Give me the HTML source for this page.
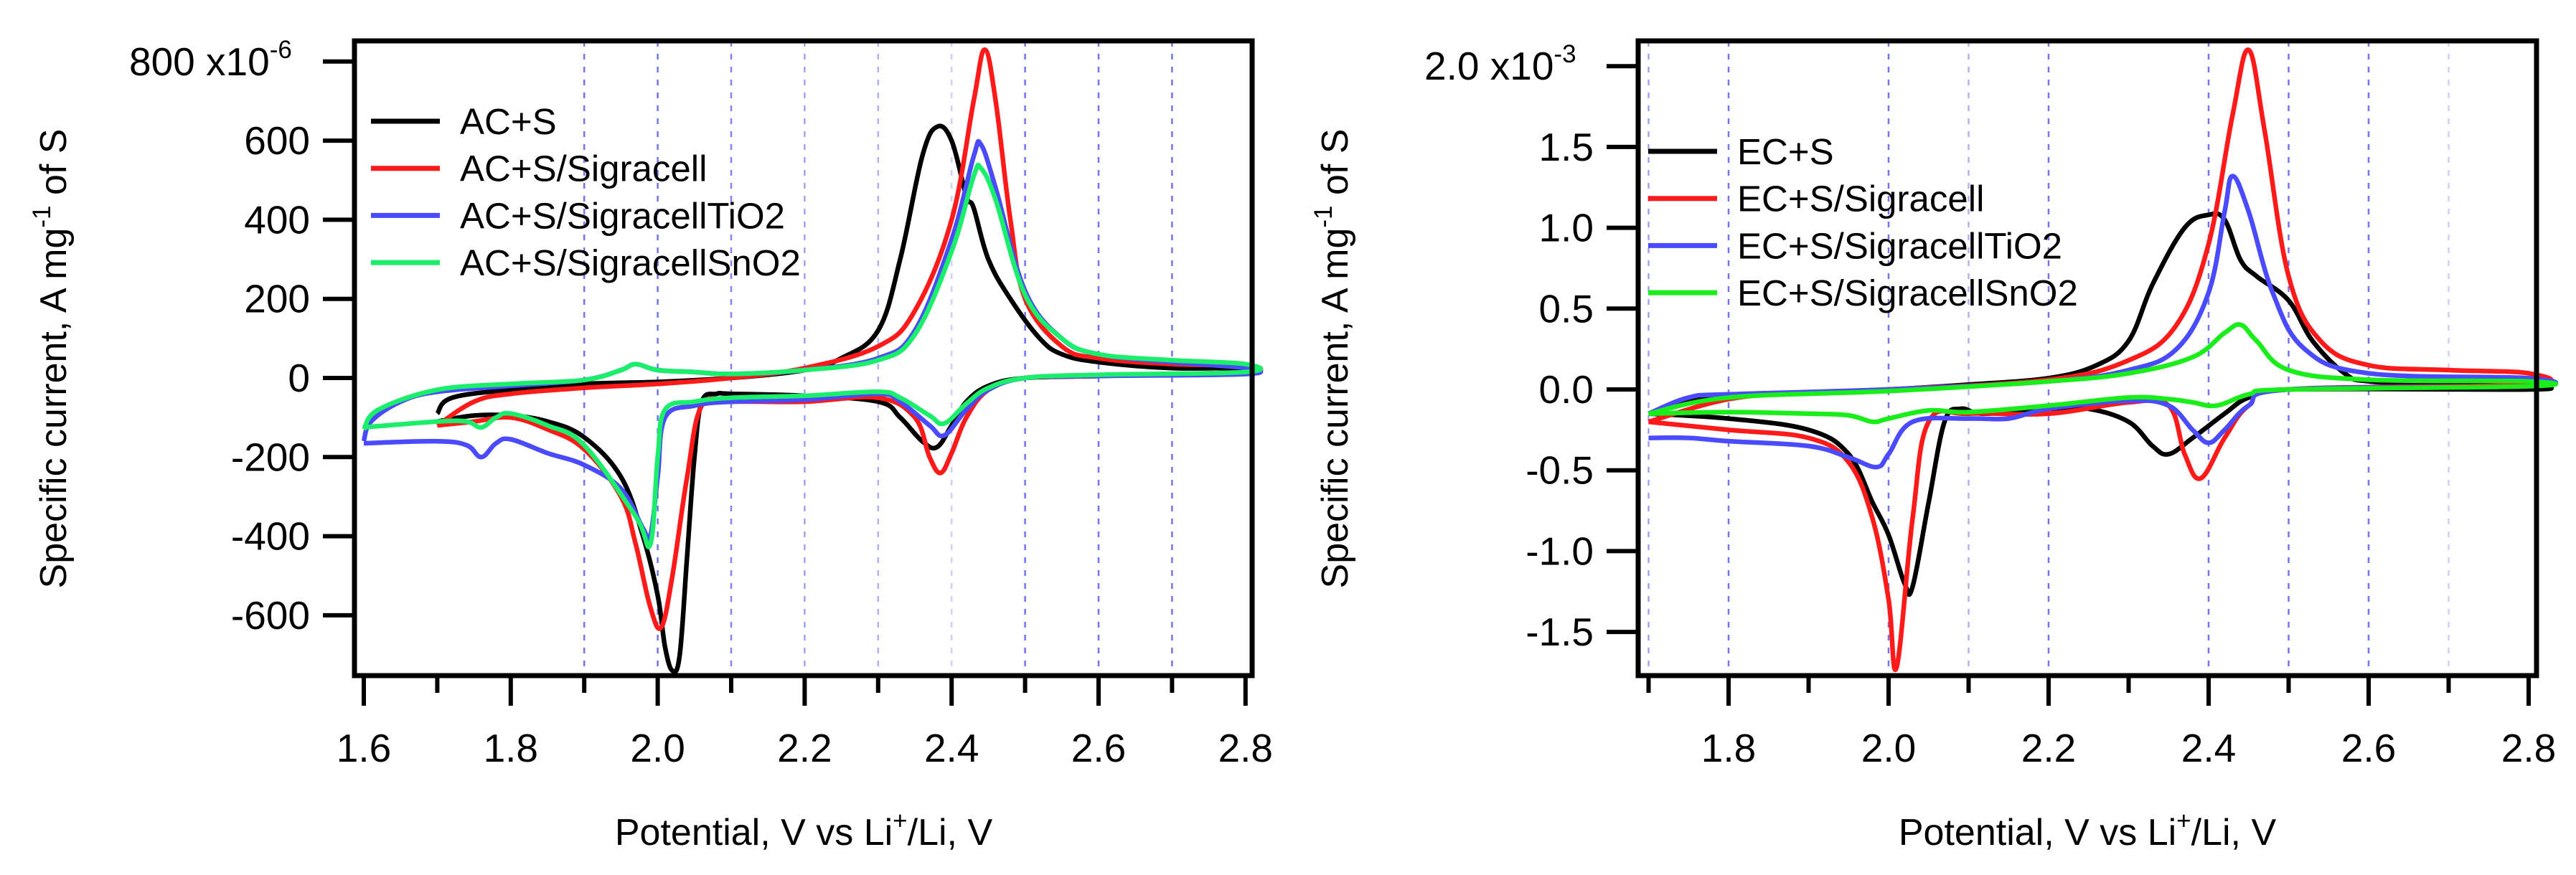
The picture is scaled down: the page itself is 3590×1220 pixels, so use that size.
<!DOCTYPE html>
<html><head><meta charset="utf-8">
<style>
html,body{margin:0;padding:0;background:#fff;}
svg{display:block;}
text{font-family:"Liberation Sans",Arial,sans-serif;fill:#000;}
</style></head>
<body>
<svg id="fig" width="3590" height="1220" viewBox="0 0 3590 1220" xmlns="http://www.w3.org/2000/svg"></svg>
<script>
// ---------- LEFT PANEL DATA (units: 1e-6 A/mg) ----------
const leftTicksX = [1.6,1.7,1.8,1.9,2.0,2.1,2.2,2.3,2.4,2.5,2.6,2.7,2.8];
const leftTickLabelsX = ["1.6","1.8","2.0","2.2","2.4","2.6","2.8"];
const leftTicksY = [-600,-400,-200,0,200,400,600,800];
const leftTickLabelsY = ["-600","-400","-200","0","200","400","600","800"];
const leftNames = ["AC+S","AC+S/Sigracell","AC+S/SigracellTiO2","AC+S/SigracellSnO2"];
const acS_V = [1.7,1.72,1.8,1.9,2.0,2.1,2.2,2.25,2.3,2.33,2.36,2.38,2.40,2.42,2.43,2.45,2.48,2.52,2.55,2.6,2.7,2.8, 2.8,2.6,2.5,2.45,2.42,2.4,2.38,2.36,2.33,2.3,2.2,2.1,2.08,2.06,2.05,2.04,2.03,2.02,2.01,2.0,1.98,1.95,1.9,1.85,1.8,1.75,1.7];
const acS_I = [-90,-50,-30,-15,-10,0,20,50,120,300,560,635,600,460,430,300,200,100,60,40,25,25, 15,5,0,-20,-60,-120,-175,-160,-100,-60,-45,-40,-40,-60,-200,-450,-700,-740,-680,-550,-400,-250,-150,-110,-95,-95,-110];
const acSig_V = [1.7,1.75,1.8,1.9,2.0,2.1,2.2,2.3,2.35,2.4,2.43,2.445,2.46,2.48,2.5,2.55,2.6,2.7,2.8, 2.8,2.6,2.5,2.45,2.42,2.40,2.385,2.37,2.35,2.3,2.2,2.1,2.06,2.04,2.02,2.005,1.99,1.97,1.95,1.9,1.85,1.8,1.75,1.7];
const acSig_I = [-120,-60,-40,-25,-15,0,25,80,170,400,700,830,700,400,200,80,50,35,30, 15,5,0,-30,-100,-190,-240,-200,-100,-50,-60,-60,-70,-250,-500,-630,-580,-420,-300,-180,-130,-100,-110,-120];
const acTi_V = [1.6,1.61,1.65,1.7,1.8,1.9,1.95,1.97,2.0,2.05,2.1,2.2,2.3,2.35,2.4,2.43,2.44,2.46,2.5,2.55,2.6,2.7,2.8, 2.8,2.6,2.5,2.45,2.42,2.39,2.37,2.33,2.3,2.2,2.1,2.05,2.01,2.0,1.99,1.98,1.95,1.9,1.85,1.8,1.78,1.76,1.74,1.7,1.6];
const acTi_I = [-160,-110,-60,-35,-20,-5,20,35,20,15,10,20,50,120,350,560,590,480,220,100,60,40,25, 10,5,0,-30,-80,-145,-120,-60,-40,-55,-60,-70,-100,-250,-400,-380,-280,-220,-190,-155,-165,-200,-170,-160,-165];
const acSn_V = [1.6,1.62,1.7,1.8,1.9,1.95,1.97,2.0,2.05,2.1,2.2,2.3,2.35,2.4,2.43,2.44,2.46,2.5,2.55,2.6,2.7,2.8, 2.8,2.6,2.5,2.45,2.42,2.39,2.37,2.33,2.3,2.2,2.1,2.05,2.01,2.0,1.99,1.97,1.9,1.85,1.8,1.78,1.76,1.74,1.7,1.6];
const acSn_I = [-130,-80,-30,-15,-5,20,35,20,15,10,20,45,110,320,510,530,450,210,100,60,45,35, 15,8,0,-25,-65,-115,-95,-50,-35,-45,-50,-60,-80,-200,-420,-350,-170,-120,-90,-100,-125,-110,-110,-125];

// ---------- RIGHT PANEL DATA (units: 1e-3 A/mg) ----------
const rightTicksX = [1.7,1.8,1.9,2.0,2.1,2.2,2.3,2.4,2.5,2.6,2.7,2.8];
const rightTickLabelsX = ["1.8","2.0","2.2","2.4","2.6","2.8"];
const rightTicksY = [-1.5,-1.0,-0.5,0.0,0.5,1.0,1.5,2.0];
const rightTickLabelsY = ["-1.5","-1.0","-0.5","0.0","0.5","1.0","1.5","2.0"];
const rightNames = ["EC+S","EC+S/Sigracell","EC+S/SigracellTiO2","EC+S/SigracellSnO2"];
const ecS_V = [1.7,1.75,1.8,1.9,2.0,2.1,2.2,2.26,2.3,2.33,2.37,2.4,2.42,2.44,2.46,2.5,2.53,2.57,2.6,2.7,2.8, 2.8,2.5,2.45,2.42,2.38,2.35,2.33,2.3,2.25,2.2,2.12,2.09,2.07,2.05,2.03,2.02,2.0,1.98,1.95,1.9,1.8,1.7];
const ecS_I = [-0.15,-0.07,-0.04,-0.02,0,0.03,0.07,0.15,0.3,0.65,1.0,1.08,1.05,0.8,0.7,0.55,0.3,0.1,0.05,0.03,0.02, 0,0,-0.05,-0.15,-0.3,-0.4,-0.35,-0.2,-0.12,-0.12,-0.15,-0.12,-0.2,-0.7,-1.22,-1.2,-0.9,-0.7,-0.4,-0.25,-0.18,-0.15];
const ecSig_V = [1.7,1.8,1.9,2.0,2.2,2.3,2.36,2.4,2.43,2.45,2.47,2.5,2.54,2.6,2.7,2.8, 2.8,2.5,2.45,2.42,2.39,2.37,2.35,2.3,2.2,2.1,2.05,2.03,2.01,2.0,1.98,1.95,1.9,1.8,1.7];
const ecSig_I = [-0.2,-0.06,-0.02,0,0.06,0.18,0.4,0.9,1.7,2.1,1.6,0.7,0.3,0.15,0.12,0.1, 0.03,0,-0.1,-0.3,-0.55,-0.4,-0.1,-0.08,-0.15,-0.15,-0.2,-0.8,-1.72,-1.3,-0.8,-0.45,-0.3,-0.25,-0.2];
const ecTi_V = [1.7,1.75,1.8,2.0,2.2,2.3,2.36,2.4,2.42,2.43,2.45,2.48,2.52,2.6,2.8, 2.8,2.5,2.45,2.42,2.4,2.38,2.35,2.3,2.2,2.15,2.1,2.03,2.0,1.985,1.95,1.9,1.8,1.75,1.7];
const ecTi_I = [-0.15,-0.05,-0.03,0,0.05,0.12,0.25,0.6,1.1,1.32,1.1,0.6,0.25,0.1,0.07, 0.02,0,-0.1,-0.25,-0.33,-0.25,-0.1,-0.07,-0.12,-0.18,-0.18,-0.2,-0.4,-0.48,-0.42,-0.35,-0.32,-0.3,-0.3];
const ecSn_V = [1.7,1.8,2.0,2.2,2.3,2.38,2.42,2.44,2.46,2.5,2.6,2.8, 2.8,2.5,2.45,2.41,2.38,2.35,2.3,2.2,2.1,2.05,2.0,1.98,1.95,1.9,1.8,1.7];
const ecSn_I = [-0.15,-0.05,-0.01,0.05,0.1,0.2,0.35,0.4,0.3,0.12,0.06,0.05, 0.02,0,-0.03,-0.1,-0.08,-0.06,-0.05,-0.1,-0.14,-0.13,-0.18,-0.2,-0.16,-0.15,-0.14,-0.15];

const colors = ["#000000","#ff1a1a","#4a4aff","#1aee6a"];
const colorsR = ["#000000","#ff1a1a","#4a4aff","#1aee1a"];

const NS = "http://www.w3.org/2000/svg";
const svg = document.getElementById("fig");
function mk(tag, attrs, parent){
  const e = document.createElementNS(NS, tag);
  for (const k in attrs) e.setAttribute(k, attrs[k]);
  (parent||svg).appendChild(e);
  return e;
}
function smoothPath(pts){
  let d = "M"+pts[0][0].toFixed(1)+","+pts[0][1].toFixed(1);
  for (let i=0;i<pts.length-1;i++){
    const p0=pts[Math.max(0,i-1)], p1=pts[i], p2=pts[i+1], p3=pts[Math.min(pts.length-1,i+2)];
    const t=0.18;
    const c1=[p1[0]+(p2[0]-p0[0])*t, p1[1]+(p2[1]-p0[1])*t];
    const c2=[p2[0]-(p3[0]-p1[0])*t, p2[1]-(p3[1]-p1[1])*t];
    d+="C"+c1[0].toFixed(1)+","+c1[1].toFixed(1)+" "+c2[0].toFixed(1)+","+c2[1].toFixed(1)+" "+p2[0].toFixed(1)+","+p2[1].toFixed(1);
  }
  return d;
}

function panel(cfg){
  const g = mk("g",{});
  
  
  const X = v => cfg.x0px + (v-cfg.x0v)*cfg.pxPerV;
  const Y = v => cfg.y0px - v*cfg.pxPerY;
  cfg.grid.forEach((v,i)=>{
    const l = mk("line",{x1:X(v),x2:X(v),y1:cfg.top,y2:cfg.bottom,stroke:"#6666ee","stroke-width":2.5,"stroke-dasharray":"8,10",opacity:cfg.gridOp[i]},g);
    
    
  });
  cfg.series.forEach((s,i)=>{
    const pts = s.V.map((v,k)=>[X(v),Y(s.I[k])]);
    const p = mk("path",{d:smoothPath(pts),fill:"none",stroke:cfg.colors[i],"stroke-width":6.5,"stroke-linejoin":"round"},g);
    
    
  });
  const f = mk("rect",{x:cfg.left,y:cfg.top,width:cfg.right-cfg.left,height:cfg.bottom-cfg.top,fill:"none",stroke:"#000","stroke-width":7},g);
  
  
  cfg.ticksX.forEach(v=>{
    const major = Math.abs(Math.round(v*10)%2)===0;
    const t = mk("line",{x1:X(v),x2:X(v),y1:cfg.bottom,y2:cfg.bottom+(major?42:24),stroke:"#000","stroke-width":6},g);
    
    
  });
  cfg.labelsX.forEach(s=>{
    const t = mk("text",{x:X(parseFloat(s)),y:1062,"text-anchor":"middle","font-size":55},g);
    t.textContent = s;
    
    
  });
  cfg.ticksY.forEach((v,i)=>{
    const t = mk("line",{x1:cfg.left-44,x2:cfg.left,y1:Y(v),y2:Y(v),stroke:"#000","stroke-width":6},g);
    
    
    if (i < cfg.ticksY.length-1){
      const lab = mk("text",{x:cfg.left-62,y:Y(v)+19,"text-anchor":"end","font-size":55},g);
      lab.textContent = cfg.labelsY[i];
      
      
    }
  });
  const ex = mk("text",{x:cfg.expX,y:Y(cfg.ticksY[cfg.ticksY.length-1])+19,"font-size":55},g);
  
  
  ex.innerHTML = cfg.expText;
  cfg.names.forEach((n,i)=>{
    const y = cfg.legY + i*cfg.legDY;
    const l = mk("line",{x1:cfg.legX,x2:cfg.legX+96,y1:y,y2:y,stroke:cfg.colors[i],"stroke-width":7},g);
    
    
    const t = mk("text",{x:cfg.legX+124,y:y+18,"font-size":51},g);
    t.textContent = n;
    
    
  });
  const xt = mk("text",{x:cfg.xTitleX,y:1178,"text-anchor":"middle","font-size":52},g);
  xt.innerHTML = 'Potential, V vs Li<tspan dy="-22" font-size="35">+</tspan><tspan dy="22">/Li, V</tspan>';
  
  
  const yt = mk("text",{x:0,y:0,"text-anchor":"middle","font-size":52,transform:"translate("+cfg.yTitleX+",500) rotate(-90)"},g);
  yt.innerHTML = 'Specific current, A mg<tspan dy="-22" font-size="35">-1</tspan><tspan dy="22"> of S</tspan>';
  
  
}

panel({
  id:"left", left:494, right:1745, top:57, bottom:942,
  x0v:1.6, x0px:507, pxPerV:1024, y0px:527, pxPerY:110.3/200,
  grid:[1.9,2.0,2.1,2.2,2.3,2.4,2.5,2.6,2.7], gridOp:[0.9,0.9,0.8,0.6,0.5,0.3,0.9,0.9,0.9],
  ticksX:leftTicksX, labelsX:leftTickLabelsX, ticksY:leftTicksY, labelsY:leftTickLabelsY,
  expX:180, expText:'800 x10<tspan dy="-24" font-size="35">-6</tspan>',
  series:[{V:acS_V,I:acS_I},{V:acSig_V,I:acSig_I},{V:acTi_V,I:acTi_I},{V:acSn_V,I:acSn_I}],
  names:leftNames, colors:colors, legX:517, legY:169, legDY:65.7,
  xTitleX:1120, yTitleX:92
});
panel({
  id:"right", left:2283, right:3535, top:57, bottom:942,
  x0v:1.8, x0px:2409, pxPerV:1115, y0px:543, pxPerY:112.7/0.5,
  grid:[1.7,1.8,2.0,2.1,2.2,2.4,2.5,2.6,2.7], gridOp:[0.6,0.9,0.9,0.5,0.9,0.9,0.9,0.9,0.3],
  ticksX:rightTicksX, labelsX:rightTickLabelsX, ticksY:rightTicksY, labelsY:rightTickLabelsY,
  expX:1985, expText:'<tspan>2.0 x10</tspan><tspan dy="-24" font-size="35">-3</tspan>',
  series:[{V:ecS_V,I:ecS_I},{V:ecSig_V,I:ecSig_I},{V:ecTi_V,I:ecTi_I},{V:ecSn_V,I:ecSn_I}],
  names:rightNames, colors:colorsR, legX:2297, legY:211, legDY:65.7,
  xTitleX:2909, yTitleX:1878
});
</script>
</body></html>
